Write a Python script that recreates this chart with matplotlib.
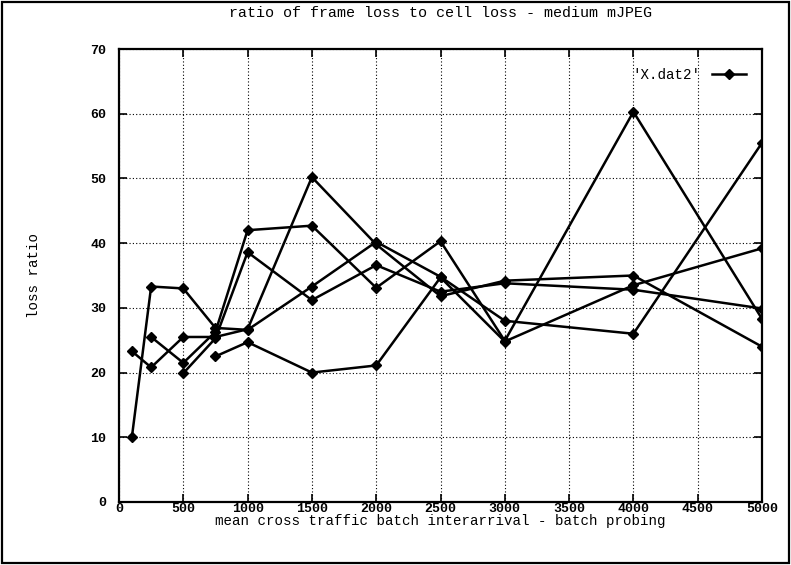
import matplotlib
matplotlib.use("Agg")
import matplotlib.pyplot as plt
from matplotlib.patches import Rectangle

plt.rcParams['font.family'] = ['Liberation Mono', 'DejaVu Sans Mono']

# Each block of X.dat2 is one run: x = mean batch interarrival, y = loss ratio
run1_x = [100, 250, 500, 750, 1000, 1500, 2000, 2500, 3000, 4000, 5000]
run1_y = [10.0, 33.3, 33.0, 26.9, 26.6, 33.3, 40.2, 34.8, 28.0, 26.0, 55.5]

run2_x = [100, 250, 500, 750, 1000, 1500, 2000, 2500, 3000, 4000, 5000]
run2_y = [23.3, 20.8, 25.5, 25.5, 26.7, 50.2, 39.8, 31.8, 34.2, 35.0, 24.0]

run3_x = [250, 500, 750, 1000, 1500, 2000, 2500, 3000, 4000, 5000]
run3_y = [25.5, 21.5, 26.3, 42.0, 42.7, 33.1, 40.3, 24.9, 60.3, 28.3]

run4_x = [500, 750, 1000, 1500, 2000, 2500, 3000, 4000, 5000]
run4_y = [19.9, 25.3, 38.6, 31.2, 36.6, 32.5, 33.8, 32.8, 29.9]

run5_x = [750, 1000, 1500, 2000, 2500, 3000, 4000, 5000]
run5_y = [22.5, 24.7, 20.0, 21.1, 34.7, 24.8, 33.5, 39.2]

runs = [(run1_x, run1_y), (run2_x, run2_y), (run3_x, run3_y),
        (run4_x, run4_y), (run5_x, run5_y)]

x_ticks = [0, 500, 1000, 1500, 2000, 2500, 3000, 3500, 4000, 4500, 5000]
y_ticks = [0, 10, 20, 30, 40, 50, 60, 70]

W, H = 791, 565
fig = plt.figure(figsize=(W / 100, H / 100), dpi=100)
fig.patch.set_facecolor('white')

# outer frame round the whole page
fig.patches.append(Rectangle((0.003, 0.004), 0.994, 0.992, transform=fig.transFigure,
                             fill=False, edgecolor='black', linewidth=1.6))

ax = fig.add_axes([119 / W, 1 - 502 / H, (762 - 119) / W, (502 - 49) / H])

for i, (xs, ys) in enumerate(runs):
    ax.plot(xs, ys, color='black', linewidth=1.8, marker='D', markersize=5,
            markerfacecolor='black', markeredgecolor='black',
            label="'X.dat2'" if i == 0 else None, zorder=3)

ax.set_xlim(0, 5000)
ax.set_ylim(0, 70)
ax.set_xticks(x_ticks)
ax.set_yticks(y_ticks)
ax.set_xticklabels([str(t) for t in x_ticks], fontsize=9.5, fontweight='bold')
ax.set_yticklabels([str(t) for t in y_ticks], fontsize=9.5, fontweight='bold')

ax.grid(True, color='black', linestyle=(0, (1, 2)), linewidth=0.8)
ax.set_axisbelow(True)

ax.tick_params(direction='in', length=6, width=1.2, top=True, right=True,
               colors='black')
ax.tick_params(axis='x', pad=1)
ax.tick_params(axis='y', pad=9)
for sp in ax.spines.values():
    sp.set_linewidth(1.6)

ax.set_title('ratio of frame loss to cell loss - medium mJPEG', fontsize=10.8, pad=23)
ax.set_xlabel('mean cross traffic batch interarrival - batch probing', fontsize=10.2,
              labelpad=-1)
ax.set_ylabel('loss ratio', fontsize=10.2, labelpad=36)

leg = ax.legend(loc='center right', bbox_to_anchor=(0.975, 0.943), frameon=False,
                markerfirst=False, fontsize=10.2, handlelength=2.4,
                handletextpad=0.8, borderpad=0, borderaxespad=0)

fig.savefig('out.png', dpi=100, facecolor='white')
